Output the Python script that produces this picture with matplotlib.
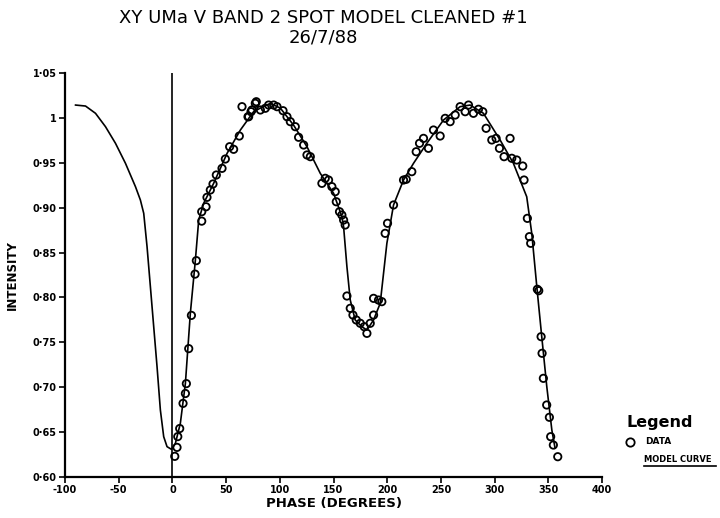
import matplotlib
matplotlib.use("Agg")
import matplotlib.pyplot as plt
from matplotlib.lines import Line2D

plt.rcParams['font.family'] = ['DejaVu Sans']

# Model curve (phase in degrees, intensity)
model_phase = [-90.2, -80.9, -71.6, -62.3, -53.0, -43.7, -34.4, -29.8, -26.7, -23.6,
               -20.5, -17.4, -14.3, -11.2, -8.1, -5.0, -0.9, 2.8, 7.4, 12.1, 16.7,
               21.4, 24.5, 29.1, 38.4, 50.9, 63.3, 75.6, 81.9, 91.2, 100.5, 112.8,
               125.3, 137.7, 150.1, 157.8, 159.4, 162.5, 165.6, 170.2, 176.4, 181.1,
               187.3, 193.5, 199.7, 205.9, 215.2, 224.5, 236.9, 252.4, 267.9, 277.2,
               289.6, 305.1, 317.5, 329.9, 334.6, 339.3, 343.9, 348.6, 353.3, 356.3]
model_int = [1.0143, 1.0132, 1.0051, 0.9902, 0.9717, 0.9494, 0.9234, 0.9085, 0.8937, 0.8565,
             0.812, 0.7674, 0.7229, 0.6746, 0.6449, 0.6338, 0.6308, 0.6375, 0.6598, 0.7044, 0.7823,
             0.8417, 0.8863, 0.9048, 0.9271, 0.9605, 0.9865, 1.0069, 1.0109, 1.0162, 1.0109, 0.992,
             0.9679, 0.9382, 0.916, 0.89, 0.8788, 0.8342, 0.7971, 0.7749, 0.7674, 0.7637,
             0.7749, 0.7935, 0.8603, 0.903, 0.9308, 0.9494, 0.9717, 0.9976, 1.0125, 1.0143,
             1.0051, 0.9754, 0.9494, 0.9122, 0.8714, 0.812, 0.7563, 0.7006, 0.6523, 0.632]

# Observed data (phase in degrees, intensity)
data_phase = [2.2, 4.3, 5.0, 6.8, 9.9, 12.1, 13.0, 15.2, 17.7, 21.1, 22.3, 27.3, 27.3,
              31.3, 32.2, 35.3, 37.8, 40.9, 46.2, 49.3, 53.3, 57.0, 62.3, 64.8, 70.4,
              73.2, 77.2, 71.0, 74.1, 78.1, 81.9, 86.5, 89.6, 94.3, 97.4, 103.0, 106.7,
              109.8, 114.4, 117.5, 122.2, 125.3, 128.4, 139.2, 142.3, 145.4, 148.5,
              151.6, 152.6, 155.6, 157.8, 159.4, 160.9, 162.5, 165.6, 168.1, 171.2,
              174.9, 178.6, 181.1, 184.2, 187.3, 187.3, 191.9, 195.0, 198.1, 200.3,
              205.9, 215.2, 217.7, 222.9, 227.0, 230.1, 233.8, 238.4, 243.1, 249.3,
              254.0, 258.6, 263.3, 267.9, 272.6, 275.7, 280.3, 285.0, 289.0, 292.1,
              297.4, 301.4, 304.5, 308.8, 314.4, 316.0, 320.6, 326.2, 327.4, 330.5,
              332.4, 333.6, 339.8, 341.1, 343.3, 344.2, 345.4, 348.5, 351.0, 352.2,
              354.7, 358.8]
data_int = [0.623, 0.633, 0.645, 0.654, 0.682, 0.693, 0.704, 0.743, 0.780, 0.826, 0.841, 0.885, 0.8955,
            0.901, 0.9115, 0.9197, 0.9264, 0.9364, 0.9438, 0.9542, 0.9679, 0.965, 0.9798, 1.0125, 1.0013,
            1.0069, 1.0162, 1.0013, 1.0088, 1.0180, 1.0088, 1.0107, 1.0143, 1.0143, 1.0125, 1.008, 1.0013,
            0.9958, 0.9902, 0.9784, 0.9698, 0.9587, 0.9568, 0.9271, 0.9327, 0.9308, 0.9234,
            0.9178, 0.9066, 0.8955, 0.8918, 0.8862, 0.8807, 0.8016, 0.7879, 0.7804, 0.7749,
            0.7712, 0.7674, 0.76, 0.7712, 0.7804, 0.799, 0.7971, 0.7953, 0.8714, 0.8826,
            0.903, 0.9308, 0.9316, 0.9401, 0.9623, 0.9717, 0.9772, 0.9661, 0.9865, 0.9798,
            0.9995, 0.9958, 1.0032, 1.0125, 1.0069, 1.0143, 1.0051, 1.0096, 1.0069, 0.9884,
            0.9754, 0.9772, 0.9661, 0.9568, 0.9772, 0.955, 0.9531, 0.9464, 0.9308, 0.8881,
            0.8677, 0.8603, 0.8091, 0.8075, 0.7563, 0.7378, 0.7099, 0.6802, 0.6665, 0.6449,
            0.6356, 0.6226]

x_ticks = [-100, -50, 0, 50, 100, 150, 200, 250, 300, 350, 400]
y_ticks = [0.60, 0.65, 0.70, 0.75, 0.80, 0.85, 0.90, 0.95, 1.00, 1.05]
y_tick_labels = ['0·60', '0·65', '0·70', '0·75', '0·80', '0·85', '0·90', '0·95', '1', '1·05']

title = "XY UMa V BAND 2 SPOT MODEL CLEANED #1\n26/7/88"

fig = plt.figure(figsize=(7.2, 5.18), dpi=100)
ax = fig.add_axes([65/720, 1 - 477/518, (602 - 65)/720, (477 - 73)/518])

ax.plot(model_phase, model_int, color='black', lw=1.2, zorder=2)
ax.scatter(data_phase, data_int, s=28, facecolors='none', edgecolors='black',
           linewidths=1.3, zorder=3)
ax.axvline(0, color='black', lw=1.2, zorder=1)

ax.set_xlim(-100, 400)
ax.set_ylim(0.60, 1.05)
ax.set_xticks(x_ticks)
ax.set_xticklabels([str(t) for t in x_ticks], fontsize=7, fontweight='bold')
ax.set_yticks(y_ticks)
ax.set_yticklabels(y_tick_labels, fontsize=7, fontweight='bold')
ax.tick_params(axis='both', direction='out', length=4, width=1.2, pad=2)
for s in ['top', 'right']:
    ax.spines[s].set_visible(False)
for s in ['left', 'bottom']:
    ax.spines[s].set_linewidth(1.6)

ax.set_xlabel('PHASE (DEGREES)', fontsize=9.5, fontweight='bold', labelpad=1)
ax.set_ylabel('INTENSITY', fontsize=8.5, fontweight='bold', labelpad=10)

fig.text(323/720, 1 - 28/518, title, ha='center', va='center', fontsize=13,
         linespacing=1.1)

# Legend
fig.text(627/720, 1 - 422/518, 'Legend', fontsize=11.5, fontweight='bold',
         ha='left', va='center')
fig.add_artist(Line2D([630/720], [1 - 442/518], marker='o', markersize=6,
                      markerfacecolor='none', markeredgecolor='black', mew=1.3,
                      linestyle='none'))
fig.text(645/720, 1 - 442/518, 'DATA', fontsize=6.5, fontweight='bold',
         ha='left', va='center')
fig.text(644/720, 1 - 460/518, 'MODEL CURVE', fontsize=6, fontweight='bold',
         ha='left', va='center')
fig.add_artist(Line2D([644/720, 716/720], [1 - 466/518, 1 - 466/518],
                      color='black', lw=1.2))

fig.savefig('out.png', dpi=100)
